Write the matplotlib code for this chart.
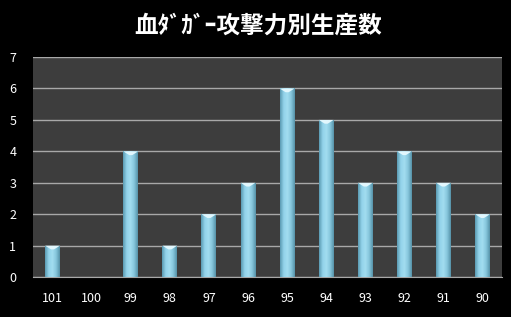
import numpy as np
import matplotlib.pyplot as plt
from matplotlib.colors import LinearSegmentedColormap

plt.rcParams['font.family'] = ['Noto Sans CJK JP', 'DejaVu Sans']

title = '血ﾀﾞｶﾞｰ攻撃力別生産数'
categories = ['101', '100', '99', '98', '97', '96', '95', '94', '93', '92', '91', '90']
counts = [1, 0, 4, 1, 2, 3, 6, 5, 3, 4, 3, 2]

fig = plt.figure(figsize=(5.11, 3.17), dpi=100, facecolor='black')
ax = fig.add_axes([0.0646, 0.126, 0.918, 0.694])
ax.set_facecolor('#3d3d3d')

x = np.arange(len(categories))
bars = ax.bar(x, counts, width=0.38, color='#7fc4dc', edgecolor='none', zorder=3)

# cylinder-like horizontal gradient for each bar
cmap = LinearSegmentedColormap.from_list('cyl', ['#5a9ab2', '#93d3ea', '#a2ddf0', '#86c6dc', '#5692a8'])
grad = np.linspace(0, 1, 64).reshape(1, -1)
for b in bars:
    if b.get_height() == 0:
        continue
    x0, w, h = b.get_x(), b.get_width(), b.get_height()
    im = ax.imshow(grad, cmap=cmap, aspect='auto', extent=[x0, x0 + w, 0, h], zorder=4)
    im.set_clip_path(b)
    # light chevron cap on top
    ax.fill([x0, x0 + w, x0 + w * 0.6, x0 + w * 0.4], [h, h, h - 0.12, h - 0.12],
            color='#e2f7fd', zorder=5, lw=0)

ax.set_xlim(-0.5, len(categories) - 0.5)
ax.set_ylim(0, 7)
ax.set_yticks(range(8))
ax.set_xticks(x)
ax.set_xticklabels(categories)
ax.yaxis.grid(True, color='#a8a8a8', linewidth=1, zorder=1)
ax.set_axisbelow(True)
for s in ['top', 'right', 'left']:
    ax.spines[s].set_visible(False)
ax.spines['bottom'].set_color('#a8a8a8')
ax.tick_params(axis='both', colors='white', labelsize=9, length=0)
ax.tick_params(axis='y', pad=12)
ax.tick_params(axis='x', pad=11)

fig.text(0.505, 0.92, title, color='white', fontsize=17, fontweight='bold', ha='center', va='center')

fig.savefig('out.png', dpi=100, facecolor='black')
